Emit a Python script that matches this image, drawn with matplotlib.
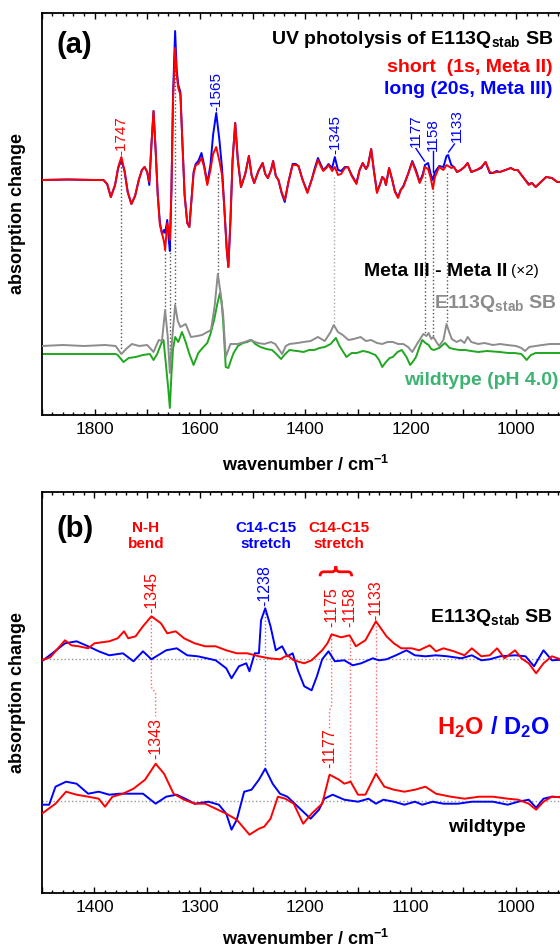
import matplotlib
matplotlib.use("Agg")
import matplotlib.pyplot as plt
import numpy as np
from matplotlib.path import Path
from matplotlib.patches import PathPatch
from matplotlib.ticker import MultipleLocator, FuncFormatter

plt.rcParams["font.family"] = ["Liberation Sans", "DejaVu Sans"]
plt.rcParams["mathtext.fontset"] = "custom"
plt.rcParams["mathtext.rm"] = "Liberation Sans"
plt.rcParams["mathtext.bf"] = "Liberation Sans:bold"
plt.rcParams["mathtext.it"] = "Liberation Sans:italic"

RED = "#ff0000"
BLUE = "#0000ff"
GREY = "#8c8c8c"
GREEN_LINE = "#1fa81f"
GREEN_TEXT = "#3cb371"
W, H = 560, 947

# ---------------- panel (a): UV photolysis, short vs long ----------------
a_wn = [1900, 1850, 1800, 1783, 1776, 1769, 1761, 1755, 1749, 1743, 1737, 1730,
        1723, 1716, 1710, 1705, 1700, 1696, 1692, 1688, 1684, 1680, 1676, 1672,
        1668, 1666, 1662, 1659, 1657, 1654, 1651, 1647, 1644, 1641, 1637, 1633,
        1629, 1624, 1620, 1616, 1612, 1608, 1603, 1597, 1592, 1586, 1580, 1575,
        1569, 1563, 1558, 1554, 1549, 1546, 1542, 1538, 1533, 1528, 1522, 1514,
        1507, 1502, 1497, 1489, 1481, 1476, 1471, 1465, 1461, 1456, 1451, 1445,
        1439, 1432, 1424, 1418, 1413, 1405, 1396, 1388, 1382, 1376, 1371, 1366,
        1360, 1356, 1349, 1344, 1338, 1332, 1325, 1319, 1312, 1303, 1297, 1291,
        1285, 1281, 1275, 1270, 1264, 1258, 1254, 1250, 1247, 1241, 1235, 1230,
        1224, 1219, 1214, 1205, 1197, 1190, 1183, 1177, 1173, 1167, 1162, 1158,
        1154, 1146, 1138, 1132, 1129, 1123, 1118, 1112, 1105, 1098, 1092, 1085,
        1075, 1066, 1058, 1050, 1044, 1037, 1031, 1020, 1010, 1003, 997, 987,
        976, 970, 963, 955, 943, 932, 922, 900]
a_short = [0.0, 0.05, 0.0, 0.0, -0.4, -1.7, -0.5, 1.3, 2.3, 0.9, -1.2, -2.4,
           -1.6, 0.0, 1.0, 1.3, 0.8, -0.2, 3.5, 6.9, 3.0, -1.5, -4.5, -5.3,
           -6.2, -7.0, -4.3, -5.0, -6.0, -1.0, 8.0, 13.2, 10.5, 9.2, 8.5, 3.5,
           -1.5, -4.3, -4.7, -2.0, 0.6, 1.5, 1.6, 2.2, 1.3, -0.5, 1.0, 2.6,
           3.3, 1.9, 0.5, -2.5, -7.0, -8.7, -4.0, 2.0, 5.7, 2.0, -0.7, 0.6,
           2.4, 0.5, -0.3, 0.9, 1.7, 0.6, 0.2, 1.0, 1.9, 0.4, 0.0, -1.2,
           -2.0, -0.2, 1.5, 1.5, 1.4, 0.0, -1.3, 0.0, 1.0, 2.0, 1.4, 0.9,
           1.2, 1.5, 0.9, 1.3, 0.5, 0.6, 1.2, 1.3, 0.4, -0.4, 1.0, 1.7,
           1.1, 1.4, 3.1, 1.0, -1.3, -0.4, 0.3, 0.1, -0.5, 1.2, 0.0, -1.2,
           -1.8, -1.0, -0.7, 0.6, 1.8, 0.8, -0.3, 0.4, 1.3, 1.1, 0.2, -0.9,
           0.3, 1.3, 1.0, 1.5, 1.4, 1.2, 1.3, 0.8, 1.0, 1.3, 1.7, 0.8,
           1.0, 1.3, 1.8, 0.8, 0.7, 0.8, 0.8, 1.0, 1.2, 1.0, 1.0, 0.3,
           -0.5, -0.3, -0.7, -0.3, 0.3, 0.2, -0.2, -0.2]
a_long = [0.0, 0.05, 0.0, 0.0, -0.4, -1.7, -0.5, 1.2, 2.0, 0.9, -1.2, -2.4,
          -1.6, 0.0, 1.0, 1.3, 0.8, -0.5, 3.5, 6.9, 3.0, -1.5, -4.2, -5.4,
          -5.0, -5.3, -4.0, -6.0, -7.1, -1.0, 8.5, 14.9, 11.0, 9.5, 8.8, 3.5,
          -1.5, -4.3, -4.7, -2.0, 0.8, 1.6, 1.9, 2.7, 1.5, -0.3, 1.5, 4.5,
          6.7, 4.0, 1.2, -2.5, -7.0, -8.7, -4.0, 2.0, 5.7, 2.0, -0.7, 0.6,
          2.4, 0.5, -0.3, 0.9, 1.7, 0.6, 0.2, 1.0, 1.9, 0.4, 0.0, -1.3,
          -2.2, -0.2, 1.6, 1.6, 1.4, 0.0, -1.2, 0.0, 1.2, 2.2, 1.6, 1.0,
          1.3, 1.6, 1.2, 2.3, 1.0, 0.9, 1.3, 1.3, 0.5, -0.3, 1.0, 1.7,
          1.1, 1.5, 3.1, 1.0, -1.2, -0.4, 0.3, 0.1, -0.5, 1.2, 0.0, -1.1,
          -1.7, -1.0, -0.6, 0.6, 1.9, 1.0, -0.2, 0.6, 1.5, 1.7, 0.6, 0.0,
          0.8, 1.4, 1.3, 2.4, 2.5, 1.5, 1.3, 0.8, 1.0, 1.3, 1.7, 0.8,
          1.0, 1.2, 1.8, 0.7, 0.7, 0.9, 0.8, 1.0, 1.2, 1.0, 1.0, 0.3,
          -0.4, -0.3, -0.7, -0.3, 0.3, 0.2, -0.2, -0.2]

# Meta III - Meta II difference, E113Q_stab SB (x2)
a_diff_wn = [1900, 1860, 1820, 1780, 1760, 1749, 1740, 1729, 1715, 1700, 1688, 1678,
             1672, 1666, 1661, 1657, 1653, 1647, 1642, 1637, 1627, 1617, 1605, 1596,
             1579, 1572, 1566, 1560, 1556, 1551, 1542, 1529, 1515, 1505, 1490, 1478,
             1465, 1457, 1444, 1437, 1430, 1415, 1403, 1390, 1376, 1363, 1352, 1346,
             1338, 1329, 1318, 1308, 1295, 1285, 1275, 1264, 1254, 1244, 1234, 1224,
             1214, 1205, 1197, 1188, 1176, 1170, 1166, 1161, 1157, 1150, 1146, 1138,
             1132, 1127, 1122, 1113, 1105, 1098, 1092, 1085, 1072, 1060, 1044, 1030,
             1017, 1000, 990, 983, 975, 963, 950, 936, 920, 900]
a_diff = [0.0, 0.1, 0.0, 0.1, 0.0, -0.8, -0.3, 0.2, 0.0, 0.1, -0.6, 0.6,
          0.5, 3.6, 0.9, -2.7, 0.5, 4.1, 2.5, 1.9, 2.2, 0.9, 1.0, 1.1,
          1.6, 4.0, 7.2, 5.0, 3.2, -1.1, 0.2, 0.2, 0.4, 0.6, 0.3, 0.2,
          0.4, 0.2, -0.8, 0.0, 0.2, 0.3, 0.4, 0.5, 0.9, 0.5, 1.4, 2.1,
          1.4, 1.1, 0.6, 0.7, 0.9, 0.5, 0.6, 0.3, 0.2, 0.4, 0.4, 0.2,
          0.2, -0.1, -0.6, 0.2, 1.2, 1.0, 1.3, 0.7, 0.9, 0.3, 0.0, 0.6,
          2.2, 1.4, 0.7, 0.4, 0.6, 0.3, 0.9, 0.4, 0.2, 0.3, 0.1, 0.2,
          0.1, 0.0, -0.2, -0.5, -0.1, 0.0, 0.1, 0.2, 0.2, 0.2]

# wildtype (pH 4.0)
a_wt_wn = [1900, 1850, 1800, 1760, 1756, 1745, 1735, 1722, 1708, 1695, 1688, 1681,
           1673, 1669, 1664, 1660, 1657, 1654, 1651, 1647, 1641, 1634, 1627, 1620,
           1612, 1603, 1595, 1586, 1580, 1573, 1567, 1562, 1559, 1556, 1551, 1546,
           1541, 1536, 1528, 1518, 1510, 1502, 1495, 1485, 1474, 1463, 1455, 1446,
           1438, 1430, 1416, 1403, 1393, 1383, 1373, 1363, 1352, 1342, 1335, 1322,
           1312, 1302, 1291, 1281, 1267, 1260, 1254, 1247, 1240, 1234, 1225, 1217,
           1208, 1201, 1195, 1190, 1184, 1178, 1172, 1166, 1161, 1156, 1146, 1135,
           1126, 1118, 1108, 1097, 1085, 1072, 1055, 1031, 1015, 1003, 990, 980,
           972, 963, 940, 922, 900]
a_wt = [0.0, 0.0, 0.0, 0.0, -0.1, -0.8, -0.4, -0.3, -0.1, 0.0, -0.6, 0.0,
        1.1, 1.4, -1.3, -3.5, -5.4, -2.0, 0.5, 1.7, 1.2, 2.2, 1.2, 0.0,
        -1.1, 0.1, 0.6, 1.1, 2.0, 3.4, 5.0, 6.1, 5.2, 3.4, -1.3, -1.4,
        -0.6, 0.1, 0.8, 1.1, 1.2, 1.4, 1.0, 0.7, 0.5, 0.4, 0.0, -0.5,
        0.0, 0.4, 0.3, 0.2, 0.4, 0.4, 0.6, 0.7, 1.0, 1.6, 0.8, -0.3,
        0.1, 0.1, 0.3, 0.2, -0.1, -0.6, -1.3, -0.8, -0.4, -0.3, 0.2, 0.4,
        -0.3, -1.1, -0.7, -0.3, 0.6, 1.4, 1.1, 0.9, 0.5, 0.4, 0.6, 1.1,
        0.6, 0.5, 0.4, 0.4, 0.3, 0.2, 0.3, 0.2, 0.1, 0.1, 0.0, -0.6,
        -0.1, 0.1, 0.1, 0.1, 0.1]

# ---------------- panel (b): H2O / D2O ----------------
b_sb_h2o_wn = [1450, 1442, 1428, 1422, 1415, 1406, 1400, 1386, 1378, 1372, 1368, 1361,
               1354, 1346, 1337, 1331, 1323, 1315, 1305, 1295, 1285, 1275, 1265, 1255,
               1244, 1234, 1224, 1217, 1211, 1201, 1194, 1184, 1179, 1175, 1166, 1158,
               1152, 1143, 1133, 1123, 1116, 1109, 1099, 1092, 1082, 1076, 1069, 1059,
               1049, 1042, 1033, 1025, 1018, 1011, 1001, 995, 988, 981, 974, 966,
               958, 950]
b_sb_h2o = [-0.1, 0.2, 1.9, 1.4, 1.3, 1.1, 1.6, 1.8, 2.1, 2.8, 2.1, 2.3,
            3.3, 4.3, 3.6, 2.6, 2.8, 2.1, 1.6, 1.3, 1.3, 0.9, 0.6, 0.6,
            0.3, 0.1, 0.0, 0.4, -0.1, -0.4, -0.1, 0.9, 1.6, 2.5, 2.2, 2.4,
            1.3, 1.9, 3.8, 2.3, 1.6, 1.1, 1.1, 0.9, 1.4, 0.8, 1.1, 0.8,
            0.4, 1.1, 0.3, 0.4, 1.1, 0.1, 0.9, 0.1, -0.4, -1.4, -0.4, 0.3,
            0.0, 0.1]
b_sb_d2o_wn = [1450, 1440, 1428, 1417, 1406, 1396, 1386, 1373, 1363, 1354, 1346, 1332,
               1322, 1312, 1302, 1285, 1275, 1270, 1263, 1256, 1253, 1248, 1244, 1242,
               1238, 1233, 1228, 1222, 1217, 1212, 1207, 1201, 1194, 1189, 1184, 1178,
               1172, 1163, 1155, 1147, 1136, 1130, 1123, 1114, 1104, 1096, 1086, 1076,
               1065, 1052, 1042, 1033, 1025, 1015, 1001, 991, 983, 974, 966, 950]
b_sb_d2o = [-0.2, 0.6, 1.6, 1.8, 1.3, 0.8, 0.4, 0.6, -0.2, 0.8, 0.0, 0.9,
            1.1, 0.4, 0.3, -0.1, -0.9, -1.9, -0.7, -0.4, -1.2, 0.6, 0.6, 3.9,
            5.1, 3.3, 0.9, 1.3, 0.3, 0.6, -1.1, -2.7, -3.1, -1.7, 0.0, 0.8,
            -0.2, -0.1, -0.6, -0.4, 0.1, -0.1, 0.0, 0.4, 0.9, 0.4, 0.3, 0.4,
            0.3, 0.1, 0.4, -0.1, 0.0, 0.3, 0.4, 0.3, -0.7, 0.9, -0.1, 0.0]
b_wt_h2o_wn = [1450, 1437, 1427, 1417, 1406, 1396, 1390, 1383, 1373, 1363, 1352, 1342,
               1334, 1325, 1315, 1305, 1295, 1285, 1275, 1265, 1253, 1244, 1239, 1233,
               1226, 1219, 1211, 1202, 1194, 1184, 1177, 1168, 1163, 1157, 1150, 1143,
               1133, 1125, 1116, 1106, 1096, 1086, 1076, 1062, 1049, 1035, 1022, 1008,
               998, 988, 981, 974, 966, 950]
b_wt_h2o = [-1.3, -0.3, 0.9, 0.6, 0.4, 0.2, -0.6, 0.4, 0.7, 1.2, 2.1, 3.7,
            2.7, 0.7, 0.1, -0.3, -0.3, -0.8, -1.3, -1.9, -3.4, -2.8, -2.6, -1.8,
            0.4, 0.2, -0.3, -2.3, -1.3, -0.3, 2.6, 2.1, 1.7, 1.9, 0.6, 0.6,
            2.7, 1.4, 1.1, 0.9, 1.1, 1.4, 0.7, 0.4, 0.2, 0.4, 0.4, 0.2,
            0.1, -0.3, -0.9, -0.1, 0.4, 0.3]
b_wt_d2o_wn = [1450, 1443, 1437, 1427, 1417, 1406, 1396, 1386, 1376, 1366, 1354, 1342,
               1332, 1322, 1312, 1305, 1292, 1282, 1275, 1270, 1265, 1258, 1251, 1244,
               1238, 1231, 1224, 1217, 1207, 1195, 1187, 1182, 1174, 1163, 1150, 1140,
               1133, 1126, 1116, 1106, 1096, 1089, 1079, 1069, 1055, 1042, 1022, 1008,
               998, 988, 981, 974, 966, 950]
b_wt_d2o = [-0.4, -0.4, 1.4, 1.9, 1.7, 0.7, 0.9, 0.6, 0.7, 0.7, 0.7, -0.3,
            0.4, 0.6, 0.1, -0.3, -0.1, -0.4, -1.3, -2.9, -1.9, 0.9, 1.1, 2.1,
            3.2, 1.7, 0.7, 0.4, -0.6, -1.8, -0.9, 0.2, 0.6, 0.1, -0.1, 0.2,
            -0.3, 0.1, -0.1, -0.4, -0.1, -0.4, -0.1, -0.3, -0.3, -0.1, -0.1, -0.4,
            -0.1, 0.1, -0.7, 0.2, 0.4, 0.3]

# peak labels: text, wavenumber, height of label foot, colour
a_labels = [("-1747", 1749, 2.5, RED), ("-1565", 1569, 6.9, BLUE),
            ("-1345", 1343, 2.6, BLUE)]
b_labels = [("-1345", 1346, 4.6, RED), ("-1238", 1238, 5.3, BLUE),
            ("-1175", 1175, 3.2, RED), ("-1158", 1158, 3.2, RED),
            ("-1133", 1133, 3.9, RED), ("-1343", 1342, -10.0, RED),
            ("-1177", 1177, -10.9, RED)]

# offsets of the stacked traces (layout)
A_DIFF_OFF = -16.6
A_WT_OFF = -17.4
B_WT_OFF = -14.14


def fig_xy(x, y):
    return x / W, 1 - y / H


def style_axis(ax, major, minor, every):
    ax.xaxis.set_major_locator(MultipleLocator(major))
    ax.xaxis.set_minor_locator(MultipleLocator(minor))
    ax.xaxis.set_major_formatter(
        FuncFormatter(lambda v, p: f"{v:.0f}" if round(v) % every == 0 else ""))
    ax.tick_params(axis="x", which="both", direction="in", top=True, bottom=True)
    ax.tick_params(axis="x", which="major", length=4.5, width=1.0,
                   labelsize=12.5, pad=5)
    ax.tick_params(axis="x", which="minor", length=2.5, width=1.0)
    ax.set_yticks([])
    for s in ax.spines.values():
        s.set_linewidth(1.3)
    ax.set_xlabel("wavenumber / cm$^{\\mathbf{-1}}$", fontsize=13,
                  fontweight="bold", va="top")
    ax.set_ylabel("absorption change", fontsize=13, fontweight="bold")
    ax.yaxis.set_label_coords(-0.03, 0.5)


def vlabel(ax, text, x, y, color, size=11):
    ax.text(x, y, text, rotation=90, ha="center", va="bottom", color=color,
            fontsize=size)


def brace(ax, x0, x1, y_end, y_mid, y_tip, color):
    xc = (x0 + x1) / 2
    q = abs(x0 - x1) * 0.12
    verts = [(x0, y_end), (x0, y_mid), (x0 - q, y_mid),
             (xc + q, y_mid), (xc, y_mid), (xc, y_tip),
             (xc, y_mid), (xc - q, y_mid),
             (x1 + q, y_mid), (x1, y_mid), (x1, y_end)]
    codes = [Path.MOVETO, Path.CURVE3, Path.CURVE3,
             Path.LINETO, Path.CURVE3, Path.CURVE3,
             Path.CURVE3, Path.CURVE3,
             Path.LINETO, Path.CURVE3, Path.CURVE3]
    ax.add_patch(PathPatch(Path(verts, codes), fc="none", ec=color, lw=2.0))


fig = plt.figure(figsize=(W / 100, H / 100), dpi=100)
ax_a = fig.add_axes([41.8 / W, 1 - 415.3 / H, 527 / W, 402.6 / H])
ax_b = fig.add_axes([41.8 / W, 1 - 893.3 / H, 527 / W, 401.6 / H])

# ---- panel (a) ----
ax = ax_a
guides_a = [(1749, 1.7, -16.9, "#555555"), (1666, -7.0, -13.0, "#555555"),
            (1657, -6.5, -19.3, "#555555"), (1647, 11.7, -12.5, "#555555"),
            (1566, 0.7, -9.4, "#555555"), (1345, 0.3, -14.3, "#aaaaaa"),
            (1172, 0.7, -15.4, "#555555"), (1157, 0.0, -15.7, "#555555"),
            (1132, 0.7, -14.4, "#555555")]
for x, y0, y1, c in guides_a:
    ax.plot([x, x], [y0, y1], ls=":", color=c, lw=1.0, zorder=1)

ax.plot(a_wn, a_long, color=BLUE, lw=1.4, zorder=3)
ax.plot(a_wn, a_short, color=RED, lw=1.4, zorder=4)
ax.plot(a_diff_wn, np.array(a_diff) + A_DIFF_OFF, color=GREY, lw=1.4, zorder=3)
ax.plot(a_wt_wn, np.array(a_wt) + A_WT_OFF, color=GREEN_LINE, lw=1.4, zorder=2)

for t, x, y, c in a_labels:
    vlabel(ax, t, x, y, c)
vlabel(ax, "1177", 1190, 3.3, BLUE)
ax.plot([1190, 1174], [3.15, 1.9], color=BLUE, lw=1.0)
vlabel(ax, "1158", 1157, 2.9, BLUE)
ax.plot([1157, 1157], [2.85, 0.8], color=BLUE, lw=1.0)
vlabel(ax, "1133", 1112, 3.8, BLUE)
ax.plot([1117, 1128], [3.6, 2.8], color=BLUE, lw=1.0)

ax.set_xlim(1900, 900)
ax.set_ylim(-23.53, 16.73)
style_axis(ax, 100, 20, 200)
ax.xaxis.set_label_coords(0.5, -0.098)

# ---- panel (b) ----
ax = ax_b
ax.axhline(0, ls=":", color="#999999", lw=1.0, zorder=1)
ax.axhline(B_WT_OFF, ls=":", color="#999999", lw=1.0, zorder=1)
guides_b = [([1346, 1346, 1342, 1342], [4.2, -2.8, -3.4, -5.7], "#ff6666"),
            ([1238, 1238], [5.0, B_WT_OFF + 3.1], "#6666ff"),
            ([1175, 1175, 1177, 1177], [2.4, -4.6, -5.1, -6.9], "#ff6666"),
            ([1158, 1158], [2.3, B_WT_OFF + 1.9], "#ff6666"),
            ([1133, 1133], [3.7, B_WT_OFF + 2.6], "#ff6666")]
for xs, ys, c in guides_b:
    ax.plot(xs, ys, ls=":", color=c, lw=1.0, zorder=1)

ax.plot(b_sb_d2o_wn, b_sb_d2o, color=BLUE, lw=1.4, zorder=3)
ax.plot(b_sb_h2o_wn, b_sb_h2o, color=RED, lw=1.4, zorder=4)
ax.plot(b_wt_d2o_wn, np.array(b_wt_d2o) + B_WT_OFF, color=BLUE, lw=1.4, zorder=3)
ax.plot(b_wt_h2o_wn, np.array(b_wt_h2o) + B_WT_OFF, color=RED, lw=1.4, zorder=4)

for t, x, y, c in b_labels:
    vlabel(ax, t, x, y, c, size=11.5)
brace(ax, 1186, 1156, 8.3, 8.75, 9.3, RED)

ax.set_xlim(1450, 950)
ax.set_ylim(-23.4, 16.76)
style_axis(ax, 50, 10, 100)
ax.xaxis.set_label_coords(0.5, -0.088)

# ---- texts ----
bold = dict(fontweight="bold")
fig.text(*fig_xy(57, 45), "(a)", fontsize=21, va="center", ha="left", **bold)
fig.text(*fig_xy(57, 529), "(b)", fontsize=21, va="center", ha="left", **bold)

fig.text(*fig_xy(553, 40), "UV photolysis of E113Q$_{\\mathbf{stab}}$ SB",
         fontsize=14, ha="right", va="center", **bold)
fig.text(*fig_xy(553, 67), "short  (1s, Meta II)", fontsize=14, ha="right",
         va="center", color=RED, **bold)
fig.text(*fig_xy(553, 89), "long (20s, Meta III)", fontsize=14, ha="right",
         va="center", color=BLUE, **bold)
t_meta = fig.text(*fig_xy(507, 271), "Meta III - Meta II", fontsize=14,
                  ha="right", va="center", **bold)
fig.text(*fig_xy(511, 271), "(\u00d72)", fontsize=11, ha="left", va="center")
fig.text(*fig_xy(557, 303), "E113Q$_{\\mathbf{stab}}$ SB", fontsize=14,
         ha="right", va="center", color=GREY, **bold)
fig.text(*fig_xy(404, 380), "wildtype (pH 4.0)", fontsize=14, ha="left",
         va="center", color=GREEN_TEXT, **bold)

for txt, x, c in [("N-H\nbend", 146, RED), ("C14-C15\nstretch", 266, BLUE),
                  ("C14-C15\nstretch", 339, RED)]:
    fig.text(*fig_xy(x, 536), txt, fontsize=11, ha="center", va="center",
             color=c, linespacing=1.25, **bold)
fig.text(*fig_xy(553, 618), "E113Q$_{\\mathbf{stab}}$ SB", fontsize=14,
         ha="right", va="center", **bold)
t_h = fig.text(*fig_xy(437, 728), "H$_{\\mathbf{2}}$O", fontsize=17,
               ha="left", va="center", color=RED, **bold)
fig.text(0, 0, " / D$_{\\mathbf{2}}$O", fontsize=17, ha="left", va="bottom",
         color=BLUE, **bold).set_position((0, 0))
fig.texts[-1].remove()
ax_b.annotate(" / D$_{\\mathbf{2}}$O", xy=(1, 0), xycoords=t_h, ha="left",
              va="bottom", fontsize=17, color=BLUE, **bold)
fig.text(*fig_xy(448, 827), "wildtype", fontsize=14, ha="left", va="center",
         **bold)

fig.savefig("out.png", dpi=100)
